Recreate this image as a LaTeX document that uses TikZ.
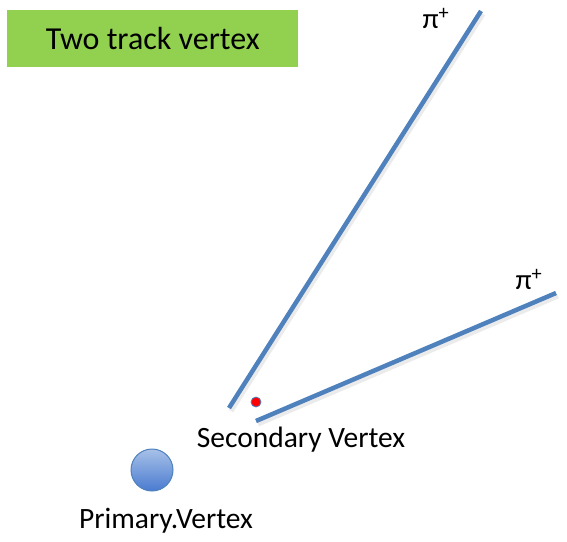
\documentclass[tikz,border=0pt]{standalone}
\usepackage{fontspec}
\setmainfont{Carlito}
\definecolor{trackblue}{HTML}{4F81BD}
\definecolor{boxgreen}{HTML}{92D050}
\definecolor{pvlight}{HTML}{A7C1E8}
\definecolor{pvdark}{HTML}{4A7BD0}
\tikzset{
  track/.style={draw=trackblue, line width=4.5pt},
  trackshadow/.style={draw=black!8, line width=5pt},
  lbl/.style={inner sep=0pt, font=\fontsize{29.5}{34}\selectfont},
  pilbl/.style={inner sep=0pt, font=\fontsize{29}{34}\selectfont},
}
\begin{document}
\begin{tikzpicture}[x=1pt,y=-1pt]
\useasboundingbox (0,0) rectangle (567,541);
\node[fill=boxgreen, minimum width=291pt, minimum height=57pt, inner sep=0pt, anchor=north west,
      font=\fontsize{32}{36}\selectfont] (title) at (7,10) {Two track vertex};
\coordinate (t1a) at (229,408);
\coordinate (t1b) at (481,11);
\coordinate (t2a) at (256,421);
\coordinate (t2b) at (556,293);
\draw[trackshadow] ([shift={(2,3)}]t1a) -- ([shift={(2,3)}]t1b);
\draw[trackshadow] ([shift={(2,3)}]t2a) -- ([shift={(2,3)}]t2b);
\draw[track] (t1a) -- (t1b);
\draw[track] (t2a) -- (t2b);
\node[pilbl] (pi1) at (436,18) {π\textsuperscript{+}};
\node[pilbl] (pi2) at (529,279) {π\textsuperscript{+}};
\node[circle, fill=red, draw=trackblue, line width=0.8pt, minimum size=10pt, inner sep=0pt] (sv) at (256,402) {};
\node[lbl] (svl) at (301,440) {Secondary Vertex};
\node[circle, draw=trackblue, line width=1pt, minimum size=42pt, inner sep=0pt,
      top color=pvlight, bottom color=pvdark] (pv) at (152,470) {};
\node[lbl] (pvl) at (166,521) {Primary.Vertex};
\end{tikzpicture}
\end{document}
